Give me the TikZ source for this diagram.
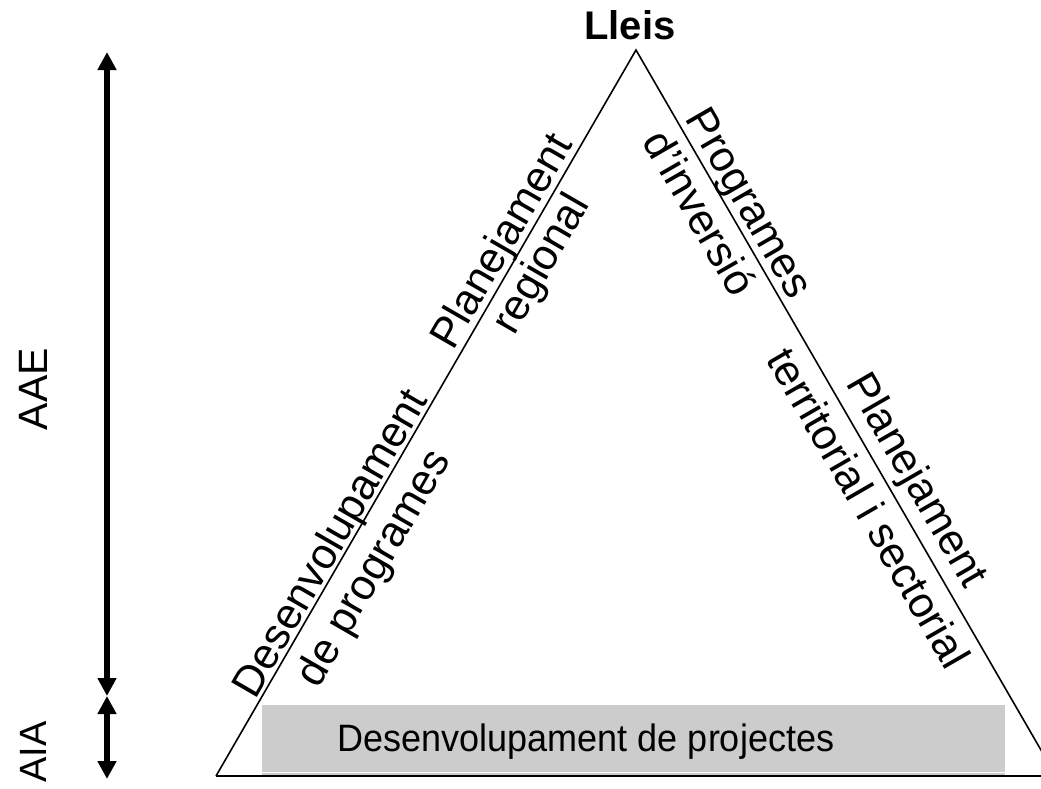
\documentclass[tikz,border=0pt]{standalone}
\usepackage{fontspec}
\setmainfont{Liberation Sans}
\usetikzlibrary{arrows.meta}
\definecolor{boxgray}{RGB}{204,204,204}
\begin{document}
\begin{tikzpicture}[x=1pt,y=-1pt,
  sideline/.style={line width=1.6pt},
  baseline/.style={line width=2.2pt},
  lbl/.style={font=\fontsize{43}{50}\selectfont, inner sep=0pt, anchor=base},
  dblarrow/.style={line width=6pt, {Triangle[width=18pt,length=18pt]}-{Triangle[width=18pt,length=18pt]}}]
\useasboundingbox (0,0) rectangle (1041,788);
\clip (0,0) rectangle (1041,788);
% gray box
\fill[boxgray] (262,705) rectangle (1005,776);
\draw[white, line width=1pt] (262,772.5) -- (1005,772.5);
\node[font=\fontsize{36}{40}\selectfont, inner sep=0pt, anchor=base, yscale=1.06] (proj) at (586,751) {Desenvolupament de projectes};
% triangle
\coordinate (A) at (636,50);
\coordinate (B) at (216,776);
\coordinate (C) at (1056,776);
\draw[sideline] (B) -- (A) -- (C);
\draw[baseline] (B) -- (C);
\node[font=\bfseries\fontsize{40}{44}\selectfont, inner sep=0pt, anchor=base] (lleis) at (630,39) {Lleis};
% left labels
\node[lbl, rotate=60] (lPlan) at (513.3,248.0) {Planejament};
\node[lbl, rotate=60] (lReg) at (552.3,270.5) {regional};
\node[lbl, rotate=60] (lDes) at (342.0,550.0) {Desenvolupament};
\node[lbl, rotate=60] (lDeP) at (384.5,574.5) {de programes};
% right labels
\node[lbl, rotate=-60] (rProg) at (737.4,209.7) {Programes};
\node[lbl, rotate=-60] (rInv) at (687.0,220.3) {d’inversió};
\node[lbl, rotate=-60] (rPlan) at (905.5,486.8) {Planejament};
\node[lbl, rotate=-60] (rTerr) at (856.1,515.3) {territorial i sectorial};
% left arrows
\coordinate (t1) at (107,52);
\coordinate (t2) at (107,696);
\coordinate (t3) at (107,779);
\draw[dblarrow] (t1) -- (t2);
\draw[dblarrow] (t2) -- (t3);
\node[font=\fontsize{41}{44}\selectfont, inner sep=0pt, rotate=90] (aae) at (33,389) {AAE};
\node[font=\fontsize{38}{44}\selectfont, inner sep=0pt, rotate=90] (aia) at (33,752) {AIA};
\end{tikzpicture}
\end{document}
